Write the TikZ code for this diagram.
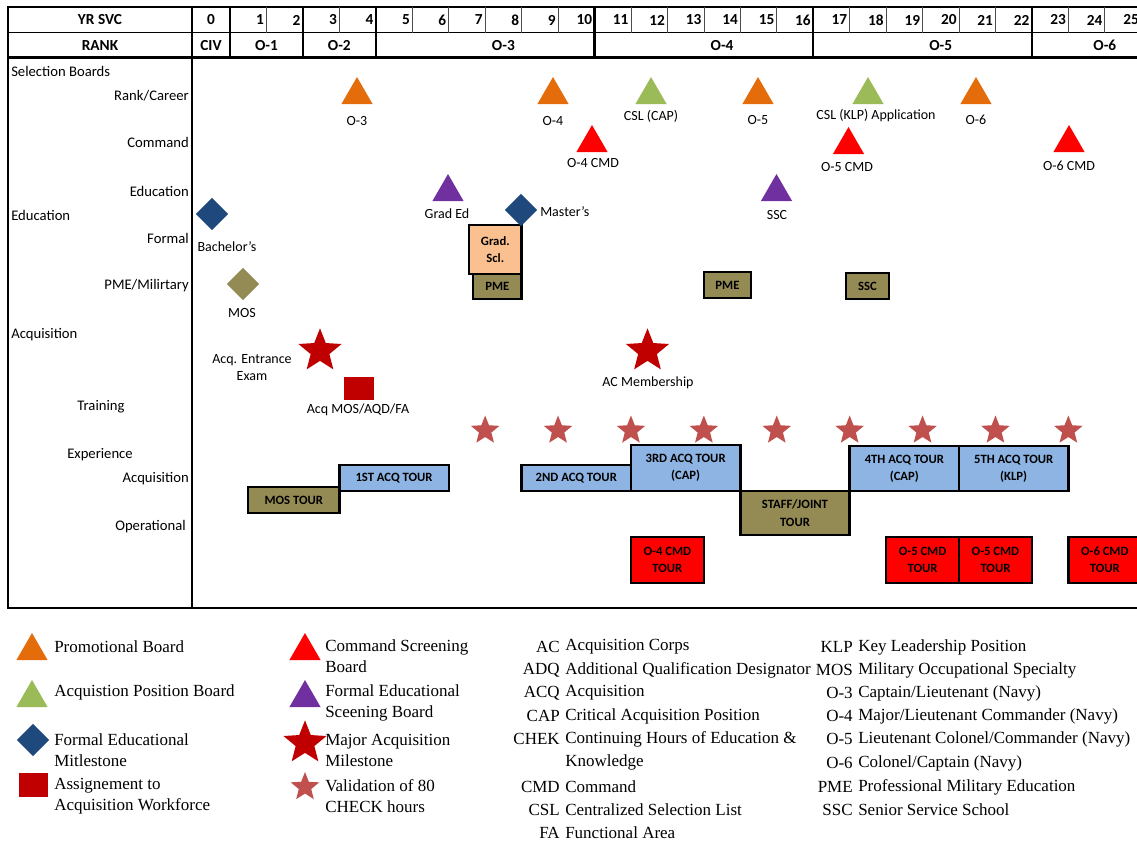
\documentclass[tikz,border=0pt]{standalone}
\usepackage{fontspec}
\setmainfont{Carlito}
\newfontfamily\legfont{Liberation Serif}
\usetikzlibrary{shapes.geometric}

\definecolor{promoorange}{RGB}{228,108,10}
\definecolor{acqgreen}{RGB}{155,187,89}
\definecolor{cmdred}{RGB}{255,0,0}
\definecolor{edupurple}{RGB}{112,48,160}
\definecolor{edublue}{RGB}{31,73,125}
\definecolor{pmeolive}{RGB}{148,138,84}
\definecolor{gradpeach}{RGB}{250,192,144}
\definecolor{acqblue}{RGB}{141,180,226}
\definecolor{milred}{RGB}{192,0,0}
\definecolor{chekrose}{RGB}{192,80,77}

\tikzset{
	board/.style={regular polygon, regular polygon sides=3, minimum size=27pt, inner sep=0pt, fill=#1},
	edumark/.style={diamond, minimum width=24.5pt, minimum height=24.5pt, inner sep=0pt, fill=#1},
	bigstar/.style={star, star points=5, star point ratio=2.3, minimum size=34pt, inner sep=0pt, fill=milred},
	chekstar/.style={star, star points=5, star point ratio=2.3, minimum size=22.5pt, inner sep=0pt, fill=chekrose},
	tag/.style={font=\fontsize{10.5}{12.75}\selectfont, inner sep=0pt, align=center},
	rowlbl/.style={font=\fontsize{11}{13}\selectfont, inner sep=0pt},
	hdr/.style={font=\bfseries\fontsize{11.5}{13}\selectfont, inner sep=0pt},
	tour/.style={draw=black, line width=1.8pt, fill=#1},
	tourtxt/.style={font=\bfseries\fontsize{9.5}{13}\selectfont, align=center, inner sep=0pt},
	legtxt/.style={font=\legfont\fontsize{12.75}{15.75}\selectfont, align=left, anchor=west, inner sep=0pt},
	abbr/.style={font=\legfont\fontsize{12.75}{15.75}\selectfont, anchor=east, inner sep=0pt},
}

\begin{document}
\begin{tikzpicture}[x=0.75pt, y=-0.75pt]
		%%%%% START %%%%%
		\useasboundingbox (0,0) rectangle (1137,844);
		\clip (0,0) rectangle (1137,844);
		
		% frame and header
		\draw[line width=1.6pt] (8,7) rectangle (1141,608);
		\draw[line width=1.2pt] (8,32.5) -- (1141,32.5);
		\draw[line width=2pt] (8,57.5) -- (1141,57.5);
		\draw[line width=1.6pt] (192,7) -- (192,608);
		\node[hdr] (yrsvc) at (100,20) {YR SVC};
		\node[hdr] (rank) at (100,45.5) {RANK};
		\node[hdr] (yr0) at (211,20) {0};
		\node[hdr] (civ) at (211,45.5) {CIV};
		
		\begin{scope}[xshift=172.5pt, x=27.3375pt]
			\foreach \k in {1,3,5,6,7,8,9,11,12,13,14,15,17,18,19,20,21,23,24}
				\draw[line width=0.5pt, black!70] (\k,7) -- (\k,32.5);
			\foreach \k in {0,2,4,10,16,22}
				\draw[line width=1.6pt] (\k,7) -- (\k,57.5);
			\foreach \k in {1,...,25}
				\node[hdr, anchor=east] (yr\k) at (\k-0.06,20) {\k};
			\node[hdr] (o1) at (1,45.5) {O-1};
			\node[hdr] (o2) at (3,45.5) {O-2};
			\node[hdr] (o3) at (7.5,45.5) {O-3};
			\node[hdr] (o4) at (13.5,45.5) {O-4};
			\node[hdr] (o5) at (19.5,45.5) {O-5};
			\node[hdr] (o6) at (24,45.5) {O-6};
			
			% CHEK stars
			\foreach \k in {7,9,...,23}
				\node[chekstar] (chek\k) at (\k,430.5) {};
			
			% tours
			\draw[tour=pmeolive] (0.5,487) rectangle (3,513) node[tourtxt, midway] (mostour) {MOS TOUR};
			\draw[tour=acqblue] (3,465) rectangle (6,491) node[tourtxt, midway] (acq1) {1ST ACQ TOUR};
			\draw[tour=acqblue] (8,465) rectangle (11,491) node[tourtxt, midway] (acq2) {2ND ACQ TOUR};
			\draw[tour=acqblue] (11,445) rectangle (14,491) node[tourtxt, midway] (acq3) {3RD ACQ TOUR\\(CAP)};
			\draw[tour=pmeolive] (14,491) rectangle (17,535) node[tourtxt, midway] (staff) {STAFF/JOINT\\TOUR};
			\draw[tour=acqblue] (17,446) rectangle (20,491) node[tourtxt, midway] (acq4) {4TH ACQ TOUR\\(CAP)};
			\draw[tour=acqblue] (20,446) rectangle (23,491) node[tourtxt, midway] (acq5) {5TH ACQ TOUR\\(KLP)};
			\draw[tour=cmdred] (11,537) rectangle (13,583) node[tourtxt, midway] (cmd4) {O-4 CMD\\TOUR};
			\draw[tour=cmdred] (18,537) rectangle (20,583) node[tourtxt, midway] (cmd5a) {O-5 CMD\\TOUR};
			\draw[tour=cmdred] (20,537) rectangle (22,583) node[tourtxt, midway] (cmd5b) {O-5 CMD\\TOUR};
			\draw[tour=cmdred] (23,537) rectangle (25,583) node[tourtxt, midway] (cmd6) {O-6 CMD\\TOUR};
		\end{scope}
		
		% row labels
		\node[rowlbl, anchor=west] (selbd) at (11,71) {Selection Boards};
		\node[rowlbl, anchor=east] (rankcar) at (189,96) {Rank/Career};
		\node[rowlbl, anchor=east] (command) at (189,142) {Command};
		\node[rowlbl, anchor=east] (educ) at (189,191) {Education};
		\node[rowlbl, anchor=west] (education) at (11,215) {Education};
		\node[rowlbl, anchor=east] (formal) at (189,238) {Formal};
		\node[rowlbl, anchor=east] (pmemil) at (189,286) {PME/Milirtary};
		\node[rowlbl, anchor=west] (acquisition) at (11,335) {Acquisition};
		\node[rowlbl] (training) at (101,407) {Training};
		\node[rowlbl] (experience) at (100,455) {Experience};
		\node[rowlbl, anchor=east] (acqexp) at (189,479) {Acquisition};
		\node[rowlbl, anchor=east] (operational) at (186,527) {Operational};
		
		% selection boards
		\node[board=promoorange] (bo3) at (357,95) {};
		\node[board=promoorange] (bo4) at (553,95) {};
		\node[board=acqgreen] (bcap) at (651,95) {};
		\node[board=promoorange] (bo5) at (758,95) {};
		\node[board=acqgreen] (bklp) at (868,95) {};
		\node[board=promoorange] (bo6) at (976,95) {};
		\node[tag] (lo3) at (357,121) {O-3};
		\node[tag] (lo4) at (553,121) {O-4};
		\node[tag] (lcap) at (651,116) {CSL (CAP)};
		\node[tag] (lo5) at (758,120) {O-5};
		\node[tag] (lklp) at (876,115) {CSL (KLP) Application};
		\node[tag] (lo6) at (976,120) {O-6};
		
		\node[board=cmdred] (bc4) at (592,143) {};
		\node[board=cmdred] (bc5) at (848.5,145) {};
		\node[board=cmdred] (bc6) at (1069,143) {};
		\node[tag] (lc4) at (593,163) {O-4 CMD};
		\node[tag] (lc5) at (847,167) {O-5 CMD};
		\node[tag] (lc6) at (1069,166) {O-6 CMD};
		
		% education
		\node[board=edupurple] (bgrad) at (448,192) {};
		\node[board=edupurple] (bssc) at (776.5,192) {};
		\node[tag] (lgrad) at (447,214) {Grad Ed};
		\node[tag] (lssc) at (777,215) {SSC};
		\node[edumark=edublue] (bach) at (212,214) {};
		\node[tag] (lbach) at (227,247) {Bachelor's};
		\node[edumark=pmeolive] (mos) at (243,284) {};
		\node[tag] (lmos) at (242,313) {MOS};
		
		\draw[tour=gradpeach] (469,225) rectangle (521.6,274) node[tourtxt, midway] (gradsch) {Grad.\\Scl.};
		\draw[tour=pmeolive] (473,274) rectangle (521.6,299) node[tourtxt, midway] (pme1) {PME};
		\draw[tour=pmeolive] (703.9,272) rectangle (751,298) node[tourtxt, midway] (pme2) {PME};
		\draw[tour=pmeolive] (846,273) rectangle (889,299) node[tourtxt, midway] (ssc) {SSC};
		\node[edumark=edublue] (master) at (521,210) {};
		\node[tag, anchor=west] (lmaster) at (540,212) {Master's};
		
		% acquisition milestones
		\node[bigstar] (entrance) at (320,351) {};
		\node[tag] (lentrance) at (252,368) {Acq. Entrance\\Exam};
		\fill[milred] (343.5,377) rectangle (373.5,400);
		\node[tag] (lassign) at (358,410) {Acq MOS/AQD/FA};
		\node[bigstar] (acmem) at (647.5,351) {};
		\node[tag] (lacmem) at (648,383) {AC Membership};
		
		% legend
		\node[board=promoorange] (kpromo) at (32,651) {};
		\node[legtxt] at (54,647) {Promotional Board};
		\node[board=acqgreen] (kacq) at (32,698) {};
		\node[legtxt] at (54,692) {Acquistion Position Board};
		\node[edumark=edublue] (kedu) at (33,740) {};
		\node[legtxt] at (54,750) {Formal Educational\\Mitlestone};
		\fill[milred] (19,773) rectangle (48,797);
		\node[legtxt] at (54,796.5) {Assignement to\\Acquisition Workforce};
		
		\node[board=cmdred] (kcmd) at (305,651) {};
		\node[legtxt] at (325,656.5) {Command Screening\\Board};
		\node[board=edupurple] (kfes) at (305,698) {};
		\node[legtxt] at (325,702.5) {Formal Educational\\Sceening Board};
		\node[bigstar] (kmajor) at (305,743) {};
		\node[legtxt] at (325,750.5) {Major Acquisition\\Milestone};
		\node[chekstar] (kchek) at (305,787) {};
		\node[legtxt] at (325,796.5) {Validation of 80\\CHECK hours};
		
		\foreach \ab/\txt/\yy in {AC/{Acquisition Corps}/647, ADQ/{Additional Qualification Designator}/670, ACQ/{Acquisition}/693, CAP/{Critical Acquisition Position}/716, CHEK/{Continuing Hours of Education \&}/739, {}/{Knowledge}/762, CMD/{Command}/787, CSL/{Centralized Selection List}/810, FA/{Functional Area}/833} {
			\node[abbr] at (560,\yy) {\ab};
			\node[legtxt] at (565,\yy) {\txt};
		}
		\foreach \ab/\txt/\yy in {KLP/{Key Leadership Position}/647, MOS/{Military Occupational Specialty}/670, O-3/{Captain/Lieutenant (Navy)}/693, O-4/{Major/Lieutenant Commander (Navy)}/716, O-5/{Lieutenant Colonel/Commander (Navy)}/739, O-6/{Colonel/Captain (Navy)}/763, PME/{Professional Military Education}/787, SSC/{Senior Service School}/810} {
			\node[abbr] at (853,\yy) {\ab};
			\node[legtxt] at (858,\yy) {\txt};
		}
		%%%%% END %%%%%
\end{tikzpicture}
\end{document}
